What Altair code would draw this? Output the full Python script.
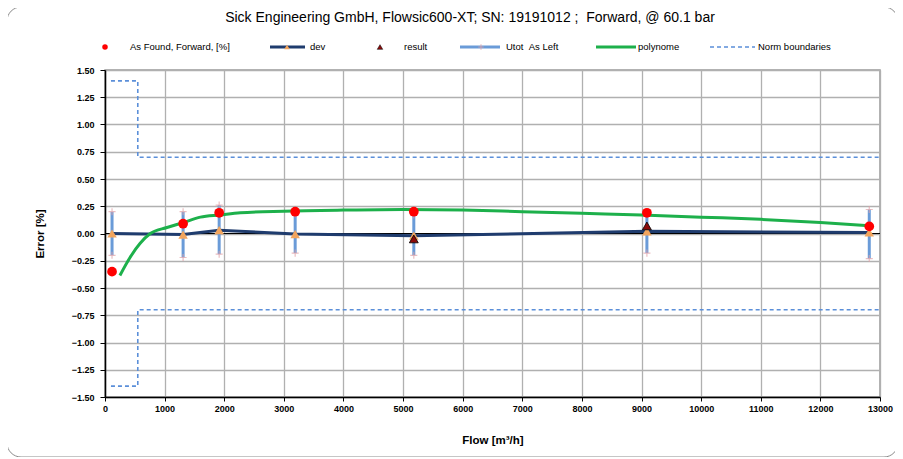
import altair as alt
import pandas as pd

# ---- data ----
flow = [118, 1310, 1915, 3190, 5180, 9090, 12820]
as_found = [-0.35, 0.09, 0.19, 0.20, 0.20, 0.19, 0.065]
dev = [0.00, -0.01, 0.03, -0.005, -0.02, 0.02, 0.01]
utot_hi = [0.20, 0.20, 0.26, 0.18, 0.17, 0.18, 0.22]
utot_lo = [-0.20, -0.22, -0.19, -0.18, -0.20, -0.18, -0.23]

result_flow = [5180, 9090]
result_val = [-0.05, 0.07]

poly_flow = [250, 420, 590, 760, 1040, 1310, 1600, 1930, 2270, 3000, 4000, 5000,
             6000, 7000, 8000, 9000, 10000, 11000, 12000, 12820]
poly_val = [-0.385, -0.22, -0.09, 0.0, 0.055, 0.10, 0.15, 0.17, 0.19, 0.205, 0.215, 0.22,
            0.215, 0.20, 0.185, 0.17, 0.15, 0.13, 0.10, 0.07]

norm_flow = [100, 550, 550, 13000]
norm_upper = [1.4, 1.4, 0.7, 0.7]
norm_lower = [-1.4, -1.4, -0.7, -0.7]

zero_flow = [0, 13000]
zero_val = [0, 0]

y_ticks = [-1.5, -1.25, -1.0, -0.75, -0.5, -0.25, 0.0, 0.25, 0.5, 0.75, 1.0, 1.25, 1.5]
x_ticks = [0, 1000, 2000, 3000, 4000, 5000, 6000, 7000, 8000, 9000, 10000, 11000, 12000, 13000]

title = "Sick Engineering GmbH, Flowsic600-XT; SN: 19191012 ;\u00a0 Forward, @ 60.1 bar"
legend_labels = ["As Found, Forward, [%]", "dev", "result", "Utot \u00a0As Left", "polynome", "Norm boundaries"]

FONT = "Liberation Sans"
W, H = 775, 327

pts = pd.DataFrame({"flow": flow, "af": as_found, "dev": dev, "hi": utot_hi, "lo": utot_lo})
res = pd.DataFrame({"flow": result_flow, "val": result_val})
poly = pd.DataFrame({"flow": poly_flow, "val": poly_val})
norm = pd.DataFrame({
    "flow": norm_flow + norm_flow,
    "val": norm_upper + norm_lower,
    "side": ["upper"] * 4 + ["lower"] * 4,
    "order": list(range(4)) + list(range(4)),
})
zero = pd.DataFrame({"flow": zero_flow, "val": zero_val})

xs = alt.Scale(domain=[0, 13000], nice=False, zero=False)
ys = alt.Scale(domain=[-1.5, 1.5], nice=False, zero=False)

xaxis = alt.Axis(values=x_ticks, title="Flow [m³/h]", format="d",
                 labelFont=FONT, labelFontSize=9, labelFontWeight="bold", labelColor="#000",
                 titleFont=FONT, titleFontSize=11.5, titleFontWeight="bold", titleColor="#000",
                 titleY=37, tickSize=4, tickColor="#000", labelPadding=3,
                 domainColor="#000", domainWidth=1.5, labelOverlap=False,
                 grid=True, gridColor="#b0b0b0", gridWidth=1.3, labelFlush=False)
yaxis = alt.Axis(values=y_ticks, title="Error [%]", format=".2f",
                 labelFont=FONT, labelFontSize=9, labelFontWeight="bold", labelColor="#000",
                 titleFont=FONT, titleFontSize=11.5, titleFontWeight="bold", titleColor="#000",
                 titleX=-60, titleY=H / 2, tickSize=5, tickColor="#000", labelPadding=6,
                 domainColor="#000", domainWidth=1.5, labelOverlap=False,
                 grid=True, gridColor="#b0b0b0", gridWidth=1.3)


def X(f="flow"):
    return alt.X(f"{f}:Q", scale=xs, axis=xaxis)


def Y(f):
    return alt.Y(f"{f}:Q", scale=ys, axis=yaxis)


base_pts = alt.Chart(pts)
one = alt.Data(values=[{}])

frame = alt.Chart(one).mark_rect(
    fillOpacity=0, stroke="#8c8c8c", strokeWidth=1, cornerRadius=14
).encode(x=alt.value(-98), x2=alt.value(793), y=alt.value(-63), y2=alt.value(387))

title_mark = alt.Chart(one).mark_text(text=title, font=FONT, fontSize=14, color="#000",
                                      align="center", baseline="middle").encode(
    x=alt.value(365), y=alt.value(-52))

norm_lines = alt.Chart(norm).mark_line(color="#5b8fd9", strokeWidth=1.6, strokeDash=[4, 3]).encode(
    x=X(), y=Y("val"), detail="side:N", order="order:Q")

zero_line = alt.Chart(zero).mark_line(color="#000", strokeWidth=1).encode(x=X(), y=Y("val"))

ebar = base_pts.mark_rule(color="#6a9bd8", strokeWidth=3).encode(x=X(), y=Y("lo"), y2="hi:Q")
plus = "M-1,0H1M0,-1V1"
cap_hi = base_pts.mark_point(shape=plus, size=50, stroke="#e3a3a8", strokeWidth=1.2, filled=False).encode(
    x=X(), y=Y("hi"))
cap_lo = base_pts.mark_point(shape=plus, size=50, stroke="#e3a3a8", strokeWidth=1.2, filled=False).encode(
    x=X(), y=Y("lo"))

dev_line = base_pts.mark_line(color="#1f3c6e", strokeWidth=3).encode(x=X(), y=Y("dev"))
dev_mark = base_pts.mark_point(shape="triangle-up", size=90, filled=True, color="#f2a55e", opacity=1).encode(
    x=X(), y=Y("dev"))

poly_line = alt.Chart(poly).mark_line(color="#1db04b", strokeWidth=3, interpolate="monotone").encode(
    x=X(), y=Y("val"))

res_mark = alt.Chart(res).mark_point(shape="triangle-up", size=80, filled=True, fill="#8b0a0a",
                                     stroke="#000", strokeWidth=0.8, opacity=1).encode(
    x=X(), y=Y("val"))

af_mark = base_pts.mark_circle(size=95, color="#ff0000", opacity=1).encode(x=X(), y=Y("af"))

# ---- legend (decoration drawn in pixel space above the plot) ----
LY = -23
leg = []
leg.append(alt.Chart(one).mark_circle(size=30, color="#ff0000", opacity=1).encode(
    x=alt.value(0), y=alt.value(LY)))
leg.append(alt.Chart(one).mark_rule(color="#1f3c6e", strokeWidth=3).encode(
    x=alt.value(165), x2=alt.value(200), y=alt.value(LY)))
leg.append(alt.Chart(one).mark_point(shape="triangle-up", size=30, filled=True, color="#f2a55e", opacity=1).encode(
    x=alt.value(182), y=alt.value(LY)))
leg.append(alt.Chart(one).mark_point(shape="triangle-up", size=30, filled=True, fill="#8b0a0a",
                                     stroke="#000", strokeWidth=0.5, opacity=1).encode(
    x=alt.value(275), y=alt.value(LY)))
leg.append(alt.Chart(one).mark_rule(color="#6a9bd8", strokeWidth=3).encode(
    x=alt.value(355), x2=alt.value(395), y=alt.value(LY)))
leg.append(alt.Chart(one).mark_point(shape=plus, size=30, stroke="#e3a3a8", strokeWidth=1.2, filled=False).encode(
    x=alt.value(376), y=alt.value(LY)))
leg.append(alt.Chart(one).mark_rule(color="#1db04b", strokeWidth=3).encode(
    x=alt.value(491), x2=alt.value(531), y=alt.value(LY)))
leg.append(alt.Chart(one).mark_rule(color="#5b8fd9", strokeWidth=1.6, strokeDash=[4, 3]).encode(
    x=alt.value(605), x2=alt.value(650), y=alt.value(LY)))
leg_x = [25, 205, 299, 401, 533, 653]
for lx, lab in zip(leg_x, legend_labels):
    leg.append(alt.Chart(one).mark_text(text=lab, font=FONT, fontSize=9.5, align="left",
                                        baseline="middle", color="#000").encode(
        x=alt.value(lx), y=alt.value(LY)))

chart = alt.layer(
    norm_lines, frame, title_mark, zero_line, ebar, cap_hi, cap_lo, dev_line, dev_mark, poly_line,
    res_mark, af_mark, *leg
).properties(
    width=W, height=H,
    autosize=alt.AutoSizeParams(type="none"),
    padding={"left": 97, "top": 62, "right": 15, "bottom": 60},
    background="white",
).configure_view(stroke="#9a9a9a", strokeWidth=1.5)

chart.save("out.html", embed_options={"renderer": "svg", "actions": False})
